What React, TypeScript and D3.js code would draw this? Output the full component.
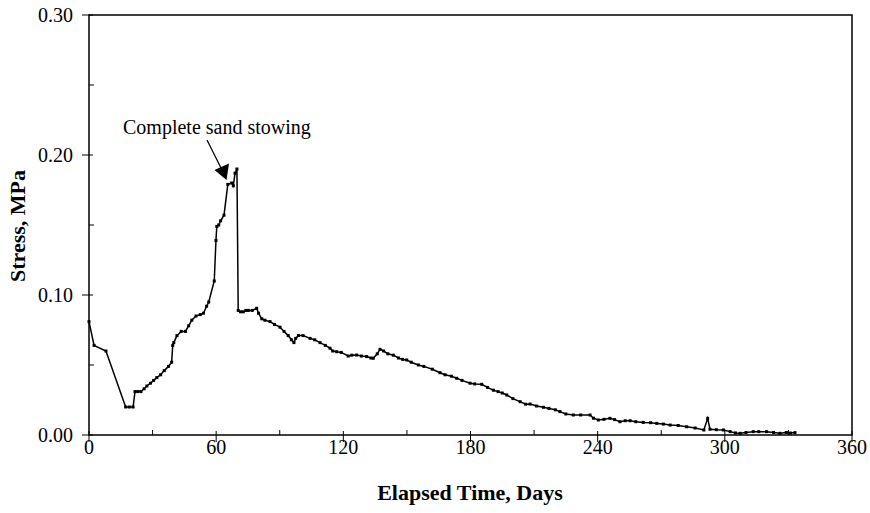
import React from 'react'
import * as d3 from 'd3'

// elapsed time (days) and stress (MPa) readings
const days = [0, 2.4, 8, 17.3, 19, 20.8, 21.7, 23, 24.5, 26, 27.3, 29, 30.5, 32, 33.8, 35.5, 37.5, 39, 39.5, 40,
  41.5, 43.5, 45.5, 47, 48.5, 50.5, 52.5, 54, 55.5, 56.5, 59.1, 59.9, 60.3, 61.2, 62.1, 63.7, 65.5, 67.3, 68.1, 68.9,
  69.8, 70.4, 71.5, 72.8, 74, 75.2, 77, 79.1, 80, 81.5, 83, 85.4, 87.5, 90.1, 92, 94, 95.5, 96.7, 97.5, 98.8,
  101, 104.3, 106.5, 109, 111.5, 113.7, 115, 116.9, 119, 122.3, 124, 126.3, 128.5, 131, 133, 134.1, 136, 137.3, 139, 141,
  143.6, 146, 148, 149.9, 152, 155.4, 158, 162, 165.6, 168, 171, 173.5, 176, 179.8, 182, 185.3, 188, 190.8, 193, 195,
  197.1, 200, 203.4, 206, 208.1, 211.2, 214.4, 217, 220, 222.2, 225, 228.5, 232, 236.4, 238, 240.3, 243, 245.8, 248, 250.5,
  253, 255.3, 258, 261.5, 265, 267.9, 271, 274.2, 278, 282, 286, 290.1, 291.9, 293, 296, 299.3, 302.5, 305, 307.2, 310,
  313.4, 316, 319.7, 323, 326, 329, 331, 333.1]

const stress = [0.081, 0.064, 0.060, 0.020, 0.020, 0.020, 0.031, 0.031, 0.031, 0.033, 0.035, 0.037, 0.039, 0.041, 0.043, 0.046, 0.049, 0.052, 0.064, 0.066,
  0.071, 0.074, 0.074, 0.078, 0.082, 0.085, 0.086, 0.087, 0.092, 0.095, 0.110, 0.139, 0.149, 0.150, 0.153, 0.157, 0.179, 0.180, 0.178, 0.187,
  0.190, 0.089, 0.088, 0.088, 0.089, 0.089, 0.089, 0.0905, 0.087, 0.083, 0.082, 0.081, 0.079, 0.077, 0.074, 0.071, 0.068, 0.066, 0.069, 0.071,
  0.071, 0.069, 0.068, 0.066, 0.064, 0.062, 0.060, 0.0595, 0.059, 0.0564, 0.057, 0.0571, 0.0564, 0.056, 0.055, 0.0548, 0.058, 0.0612, 0.060, 0.058,
  0.057, 0.055, 0.054, 0.0536, 0.052, 0.050, 0.049, 0.047, 0.0445, 0.043, 0.042, 0.0405, 0.039, 0.037, 0.0365, 0.0362, 0.034, 0.032, 0.031, 0.030,
  0.0286, 0.026, 0.0238, 0.022, 0.0221, 0.0207, 0.0198, 0.019, 0.018, 0.0167, 0.015, 0.0143, 0.0143, 0.0143, 0.012, 0.0107, 0.0112, 0.0119, 0.011, 0.0095,
  0.0102, 0.0102, 0.0095, 0.009, 0.0088, 0.0083, 0.0078, 0.0071, 0.0068, 0.0059, 0.005, 0.0036, 0.0119, 0.0041, 0.0038, 0.0036, 0.0024, 0.0015, 0.0012, 0.0018,
  0.0024, 0.0024, 0.0024, 0.0018, 0.0012, 0.0018, 0.0014, 0.0017]

const xTicks = [0, 60, 120, 180, 240, 300, 360]
const xMinor = [30, 90, 150, 210, 270, 330]
const yTicks = [0, 0.1, 0.2, 0.3]
const yMinor = [0.05, 0.15, 0.25]
const note = 'Complete sand stowing'

const font = '"Liberation Serif", "Times New Roman", serif'

export default function App() {
  const left = 89, right = 852, top = 15, bottom = 435

  const x = d3.scaleLinear().domain([0, 360]).range([left, right])
  const y = d3.scaleLinear().domain([0, 0.3]).range([bottom, top])

  const pts: [number, number][] = days.map((d, i) => [d, stress[i]])
  const line = d3.line<[number, number]>().x(d => x(d[0])).y(d => y(d[1]))

  return (
    <svg width={870} height={513} style={{ position: 'absolute', left: 0, top: 0, background: '#fff' }}
      fontFamily={font}>
      <rect x={left} y={top} width={right - left} height={bottom - top} fill="none" stroke="#000" strokeWidth={1.5} />

      {yTicks.map(t => (
        <g key={'y' + t}>
          <line x1={left - 7} x2={left + 4} y1={y(t)} y2={y(t)} stroke="#000" strokeWidth={1} />
          <text x={73} y={y(t)} dy="0.35em" textAnchor="end" fontSize={20}>{t.toFixed(2)}</text>
        </g>
      ))}
      {yMinor.map(t => (
        <line key={'ym' + t} x1={left} x2={left + 5} y1={y(t)} y2={y(t)} stroke="#000" strokeWidth={1} />
      ))}
      {xTicks.map(t => (
        <g key={'x' + t}>
          <line x1={x(t)} x2={x(t)} y1={bottom - 4} y2={bottom + 7} stroke="#000" strokeWidth={1} />
          <text x={x(t)} y={454} textAnchor="middle" fontSize={20}>{t}</text>
        </g>
      ))}
      {xMinor.map(t => (
        <line key={'xm' + t} x1={x(t)} x2={x(t)} y1={bottom - 5} y2={bottom} stroke="#000" strokeWidth={1} />
      ))}

      <path d={line(pts) || ''} fill="none" stroke="#000" strokeWidth={1.5} />
      {pts.map((p, i) => (
        <rect key={i} x={x(p[0]) - 1.5} y={y(p[1]) - 1.5} width={3} height={3} fill="#000" />
      ))}

      <text x={123} y={134} fontSize={20}>{note}</text>
      <line x1={207} y1={140} x2={221} y2={168} stroke="#000" strokeWidth={1.3} />
      <polygon points="214.5,170 229,163.5 226.5,180" fill="#000" />

      <text transform="translate(25,226) rotate(-90)" textAnchor="middle" fontSize={22} fontWeight="bold">Stress, MPa</text>
      <text x={470} y={500} textAnchor="middle" fontSize={22} fontWeight="bold">Elapsed Time, Days</text>
    </svg>
  )
}
